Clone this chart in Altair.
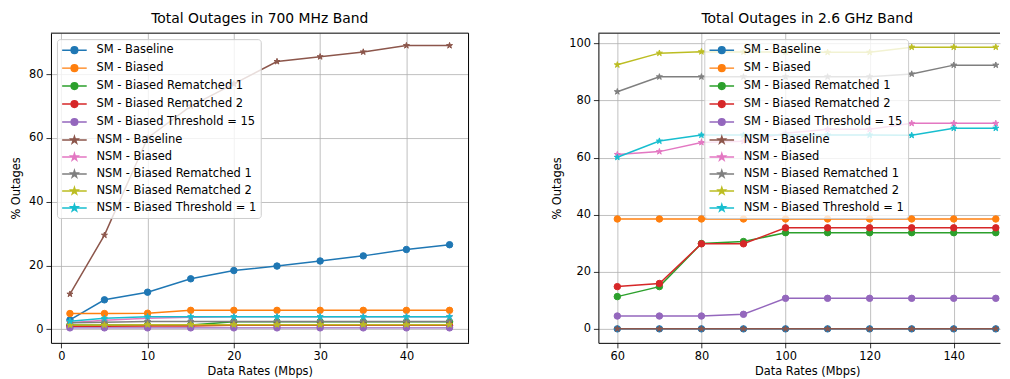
import altair as alt
import pandas as pd

SERIES = [
    "SM - Baseline", "SM - Biased", "SM - Biased Rematched 1", "SM - Biased Rematched 2",
    "SM - Biased Threshold = 15", "NSM - Baseline", "NSM - Biased", "NSM - Biased Rematched 1",
    "NSM - Biased Rematched 2", "NSM - Biased Threshold = 1",
]
COLORS = ["#1f77b4", "#ff7f0e", "#2ca02c", "#d62728", "#9467bd",
          "#8c564b", "#e377c2", "#7f7f7f", "#bcbd22", "#17becf"]

# ---- 700 MHz band ----
x_700 = [1, 5, 10, 15, 20, 25, 30, 35, 40, 45]
sm_baseline_700 = [2.9, 9.2, 11.6, 15.8, 18.4, 19.8, 21.4, 23.0, 25.0, 26.5]
sm_biased_700 = [4.9, 4.9, 5.0, 5.9, 5.9, 5.9, 5.9, 5.9, 5.9, 5.9]
sm_rem1_700 = [1.3, 1.3, 1.3, 1.3, 2.3, 2.3, 2.3, 2.3, 2.3, 2.3]
sm_rem2_700 = [0.9, 0.9, 1.0, 1.0, 1.2, 1.2, 1.2, 1.2, 1.2, 1.2]
sm_thr_700 = [0.4, 0.4, 0.4, 0.4, 0.4, 0.4, 0.4, 0.4, 0.4, 0.4]
nsm_baseline_700 = [11.0, 29.5, 60.0, 70.0, 77.0, 84.0, 85.5, 87.0, 89.0, 89.0]
nsm_biased_700 = [2.0, 2.8, 3.4, 3.7, 3.9, 3.9, 3.9, 3.9, 3.9, 3.9]
nsm_rem1_700 = [2.0, 2.2, 2.4, 2.4, 2.4, 2.4, 2.4, 2.4, 2.4, 2.4]
nsm_rem2_700 = [1.3, 1.3, 1.4, 1.4, 1.4, 1.4, 1.4, 1.4, 1.4, 1.4]
nsm_thr_700 = [2.5, 3.4, 3.9, 3.9, 3.9, 3.9, 3.9, 3.9, 3.9, 3.9]

# ---- 2.6 GHz band ----
x_26 = [60, 70, 80, 90, 100, 110, 120, 130, 140, 150]
sm_baseline_26 = [0, 0, 0, 0, 0, 0, 0, 0, 0, 0]
sm_biased_26 = [38.5, 38.5, 38.5, 38.5, 38.5, 38.5, 38.5, 38.5, 38.5, 38.5]
sm_rem1_26 = [11.3, 14.8, 29.9, 30.6, 33.7, 33.7, 33.7, 33.7, 33.7, 33.7]
sm_rem2_26 = [14.8, 15.9, 29.8, 29.8, 35.4, 35.4, 35.4, 35.4, 35.4, 35.4]
sm_thr_26 = [4.5, 4.5, 4.5, 5.1, 10.7, 10.7, 10.7, 10.7, 10.7, 10.7]
nsm_baseline_26 = [0, 0, 0, 0, 0, 0, 0, 0, 0, 0]
nsm_biased_26 = [61.1, 62.1, 65.3, 65.7, 68.5, 69.9, 69.9, 72.0, 72.0, 72.0]
nsm_rem1_26 = [83.1, 88.3, 88.3, 88.3, 88.3, 88.3, 88.3, 89.3, 92.4, 92.4]
nsm_rem2_26 = [92.5, 96.6, 97.1, 97.0, 97.0, 96.9, 96.9, 98.7, 98.7, 98.7]
nsm_thr_26 = [60.1, 65.8, 67.9, 67.9, 67.9, 67.9, 67.9, 67.8, 70.3, 70.3]

VALS_700 = [sm_baseline_700, sm_biased_700, sm_rem1_700, sm_rem2_700, sm_thr_700,
            nsm_baseline_700, nsm_biased_700, nsm_rem1_700, nsm_rem2_700, nsm_thr_700]
VALS_26 = [sm_baseline_26, sm_biased_26, sm_rem1_26, sm_rem2_26, sm_thr_26,
           nsm_baseline_26, nsm_biased_26, nsm_rem1_26, nsm_rem2_26, nsm_thr_26]

FONT = "DejaVu Sans"


def star(r):
    pts = [(0, -1), (0.2245, -0.309), (0.9511, -0.309), (0.3633, 0.118), (0.5878, 0.809),
           (0, 0.382), (-0.5878, 0.809), (-0.3633, 0.118), (-0.9511, -0.309), (-0.2245, -0.309)]
    return "M" + "L".join(f"{x * r:.4f},{y * r:.4f}" for x, y in pts) + "Z"


STAR_PT = star(1.0)
# legend symbols: symbolSize 144 -> 1 unit = 6 px; line ~24 px long
CIRC_LEG = "M-2.05,0L2.05,0M0.55,0A0.55,0.55,0,1,1,-0.55,0A0.55,0.55,0,1,1,0.55,0Z"
STAR_LEG = "M-2.05,0L2.05,0" + star(0.6)

series_js = "[" + ",".join(f"'{s}'" for s in SERIES) + "]"
colors_js = "[" + ",".join(f"'{c}'" for c in COLORS) + "]"
col_expr = f"{colors_js}[indexof({series_js}, datum.value)]"
shape_expr = f"indexof(datum.value, 'NSM') == 0 ? '{STAR_LEG}' : '{CIRC_LEG}'"


def panel(xs, vals, title, width, height, xdom, ydom, xticks, yticks, legx, title_dx,
          right_border):
    rows = []
    for s, v in zip(SERIES, vals):
        for x, y in zip(xs, v):
            rows.append({"x": x, "y": y, "series": s})
    df = pd.DataFrame(rows)

    xaxis = alt.Axis(values=xticks, title="Data Rates (Mbps)",
                     titleX=209, titleAlign="center", titleY=29, titleBaseline="middle")
    yaxis = alt.Axis(values=yticks, title="% Outages")
    layers = []
    for i, s in enumerate(SERIES):
        sub = df[df.series == s]
        base = alt.Chart(sub).encode(
            x=alt.X("x:Q", scale=alt.Scale(domain=xdom, nice=False, zero=False), axis=xaxis),
            y=alt.Y("y:Q", scale=alt.Scale(domain=ydom, nice=False, zero=False), axis=yaxis),
        )
        line = base.mark_line(strokeWidth=1.5, color=COLORS[i])
        if i == 0:
            leg = alt.Legend(
                title=None, orient="none", legendX=legx, legendY=6,
                fillColor="rgba(255,255,255,0.8)", strokeColor="#cccccc", cornerRadius=3,
                padding=4, labelFont=FONT, labelFontSize=11.5, labelColor="black",
                labelLimit=400,
                symbolSize=144, symbolStrokeWidth=1.5, rowPadding=4,
                symbolOffset=6.5, labelOffset=15,
                symbolType={"expr": shape_expr},
                symbolStrokeColor={"expr": col_expr},
                symbolFillColor={"expr": col_expr},
            )
        else:
            leg = None
        color = alt.Color("series:N", scale=alt.Scale(domain=SERIES, range=COLORS), legend=leg)
        if s.startswith("NSM"):
            pts = base.mark_point(filled=True, opacity=1, shape=STAR_PT, size=40,
                                  stroke=COLORS[i], strokeWidth=1)
        else:
            pts = base.mark_point(filled=True, opacity=1, shape="circle", size=42,
                                  stroke=COLORS[i], strokeWidth=1)
        layers += [line, pts.encode(color=color)]

    frame_df = pd.DataFrame({"a": [0]})
    layers.append(alt.Chart(frame_df).mark_rule(color="black", strokeWidth=1).encode(
        x=alt.value(0), x2=alt.value(width), y=alt.value(0)))
    if right_border:
        layers.append(alt.Chart(frame_df).mark_rule(color="black", strokeWidth=1).encode(
            x=alt.value(width), y=alt.value(0), y2=alt.value(height)))
    return alt.layer(*layers).properties(
        width=width, height=height,
        title=alt.TitleParams(title, anchor="middle", frame="group", dx=title_dx),
    )


left = panel(x_700, VALS_700, "Total Outages in 700 MHz Band", 418, 310,
             [-1.2, 47.2], [-4.3, 92.9], [0, 10, 20, 30, 40], [0, 20, 40, 60, 80], 6, 0, True)
right = panel(x_26, VALS_26, "Total Outages in 2.6 GHz Band", 402, 310,
              [55.5, 151.0], [-4.9, 103.6], [60, 80, 100, 120, 140], [0, 20, 40, 60, 80, 100],
              106, 8, False)

chart = alt.hconcat(left, right, spacing=81).resolve_legend(color="independent").properties(
    padding={"left": 3, "top": 3, "right": 0, "bottom": 0}
).configure_view(stroke=None).configure_axis(
    grid=True, gridColor="#b0b0b0", gridWidth=0.8, gridOpacity=1,
    domain=True, domainColor="black", domainWidth=1,
    ticks=True, tickColor="black", tickSize=5, tickWidth=0.8,
    labelFont=FONT, labelFontSize=11.4, labelColor="black", labelPadding=3,
    titleFont=FONT, titleFontSize=11.4, titleFontWeight="normal", titleColor="black",
    titlePadding=6.5,
).configure_title(
    font=FONT, fontSize=13.9, fontWeight="normal", color="black", offset=7
)

chart.save("out.html", embed_options={"renderer": "svg", "actions": False})
